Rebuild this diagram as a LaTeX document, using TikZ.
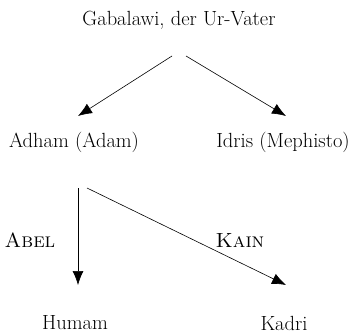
\documentclass[tikz,border=0pt]{standalone}
\usetikzlibrary{arrows.meta}
\begin{document}
\begin{tikzpicture}[x=1pt,y=-1pt,
  lbl/.style={inner sep=0pt,font=\fontsize{20.5}{24}\selectfont},
  arr/.style={-{Latex[length=14pt,width=11pt]},line width=0.6pt}]
\useasboundingbox (0,0) rectangle (356,334);
\node[lbl] (g) at (179,20) {Gabalawi, der Ur-Vater};
\node[lbl] (adham) at (74,142) {Adham (Adam)};
\node[lbl] (idris) at (283,142) {Idris (Mephisto)};
\node[lbl] (humam) at (75,323) {Humam};
\node[lbl] (kadri) at (284,323) {Kadri};
\node[lbl] (abel) at (30,240) {\textsc{Abel}};
\node[lbl] (kain) at (240,240) {\textsc{Kain}};
\coordinate (g1) at (172,56);
\coordinate (g2) at (186,56);
\coordinate (a1) at (78,116);
\coordinate (i1) at (286,116);
\coordinate (ad1) at (78,188);
\coordinate (ad2) at (87,188);
\coordinate (h1) at (78,285);
\coordinate (k1) at (286,285);
\draw[arr] (g1) -- (a1);
\draw[arr] (g2) -- (i1);
\draw[arr] (ad1) -- (h1);
\draw[arr] (ad2) -- (k1);
\end{tikzpicture}
\end{document}
